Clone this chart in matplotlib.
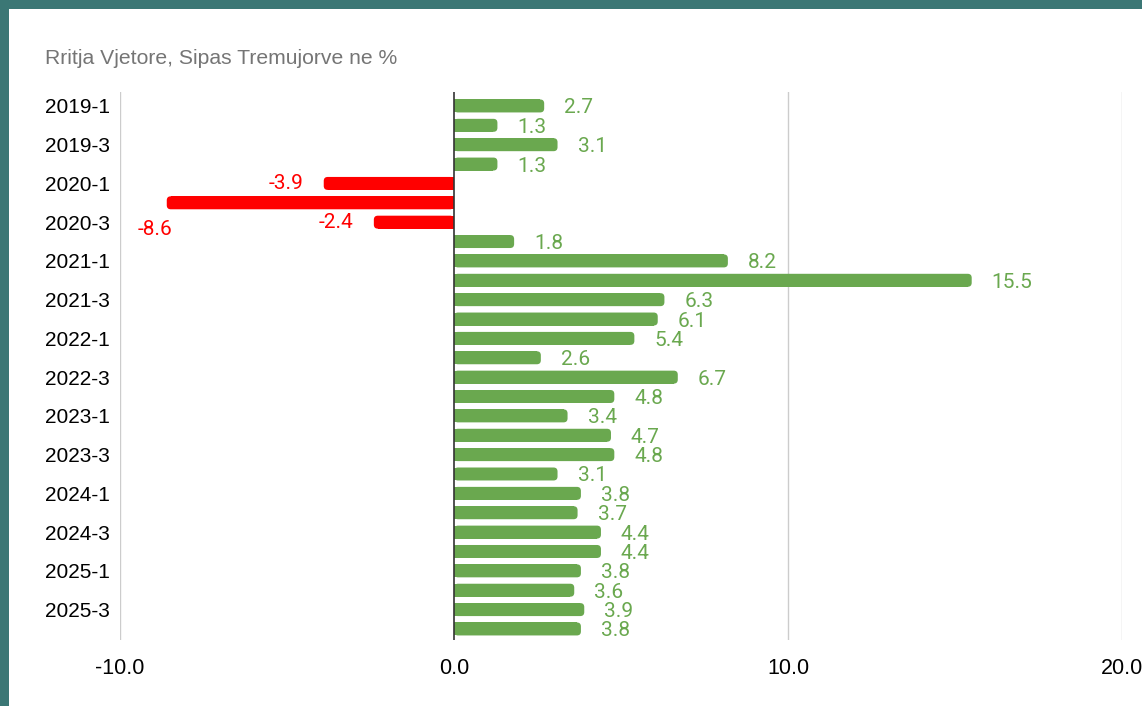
import numpy as np
import matplotlib.pyplot as plt
from matplotlib.patches import Rectangle, FancyBboxPatch

# quarterly year-on-year growth, %
quarters = [f"{y}-{q}" for y in range(2019, 2026) for q in range(1, 5)]
growth = [2.7, 1.3, 3.1, 1.3,
          -3.9, -8.6, -2.4, 1.8,
          8.2, 15.5, 6.3, 6.1,
          5.4, 2.6, 6.7, 4.8,
          3.4, 4.7, 4.8, 3.1,
          3.8, 3.7, 4.4, 4.4,
          3.8, 3.6, 3.9, 3.8]
xticks = [-10, 0, 10, 20]

green = '#6aa84f'
red = '#ff0000'

fig = plt.figure(figsize=(11.42, 7.06), dpi=100, facecolor='#3b7775')
fig.patches.append(Rectangle((9 / 1142, 0), 1, 1 - 9 / 706, transform=fig.transFigure,
                             facecolor='white', edgecolor='none', zorder=-10))

ax = fig.add_axes([120 / 1142, 1 - 640 / 706, 1002 / 1142, 548 / 706])
ax.set_facecolor('none')
ax.set_xlim(-10, 20)
ax.set_ylim(27.57, -0.72)

y = np.arange(len(quarters))
colors = [green if v >= 0 else red for v in growth]
bars = ax.barh(y, growth, height=0.67, color=colors, zorder=2)

# round the outer end of each bar
p0 = ax.transData.transform((0, 0))
p1 = ax.transData.transform((1, 1))
px_x, px_y = abs(p1[0] - p0[0]), abs(p1[1] - p0[1])
r = 4 / px_x
aspect = px_x / px_y
for b in bars:
    x0, w = b.get_x(), b.get_width()
    left = min(x0, x0 + w)
    ax.add_patch(FancyBboxPatch((left, b.get_y()), abs(w), b.get_height(),
                                boxstyle=f"round,pad=0,rounding_size={r}",
                                mutation_aspect=aspect, facecolor=b.get_facecolor(),
                                edgecolor='none', zorder=2))
    b.set_width(w - np.sign(w) * r)

for i, v in enumerate(growth):
    c = green if v >= 0 else red
    if v >= 0:
        ax.annotate(f"{v:.1f}", (v, i), xytext=(20, -2), textcoords='offset pixels',
                    ha='left', va='center', color=c, fontsize=15, family='Roboto')
    elif v < -8:
        # no room on the left, Sheets drops this one below the bar
        ax.annotate(f"{v:.1f}", (v, i), xytext=(-12, -27), textcoords='offset pixels',
                    ha='center', va='center', color=c, fontsize=15, family='Roboto')
    else:
        ax.annotate(f"{v:.1f}", (v, i), xytext=(-20, 0), textcoords='offset pixels',
                    ha='right', va='center', color=c, fontsize=15, family='Roboto')

ax.set_xticks(xticks)
ax.set_xticklabels([f"{t:.1f}" for t in xticks], fontsize=15.5, family='Liberation Sans')
ax.set_yticks(y[::2])
ax.set_yticklabels(quarters[::2], fontsize=15, family='Liberation Sans')
ax.tick_params(length=0)
ax.tick_params(axis='x', pad=13)
ax.tick_params(axis='y', pad=7.5)
for s in ax.spines.values():
    s.set_visible(False)

for t in xticks:
    if t == 0:
        ax.axvline(t, color='#333333', lw=1.2, zorder=3)
    else:
        ax.axvline(t, color='#cccccc', lw=1, zorder=1)

fig.text(45 / 1142, 1 - 58 / 706, "Rritja Vjetore, Sipas Tremujorve ne %", color='#757575',
         fontsize=15.2, family='Liberation Sans', va='center', ha='left')

fig.savefig('out.png', dpi=100, facecolor=fig.get_facecolor())
